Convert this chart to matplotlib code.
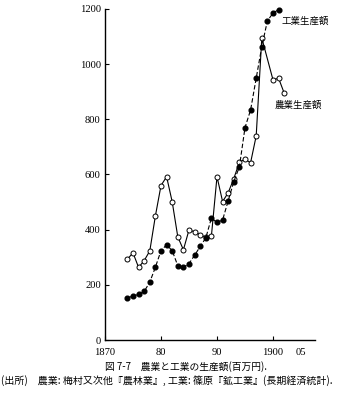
import matplotlib
matplotlib.use("Agg")
import matplotlib.pyplot as plt
import numpy as np

plt.rcParams['font.family'] = ['Noto Sans CJK JP', 'DejaVu Sans']

# 工業生産額 (百万円), 1874-1901
ind_years = list(range(1874, 1902))
ind_values = [152, 160, 165, 176, 210, 264, 324, 345, 324, 269,
              263, 277, 307, 339, 370, 442, 426, 435, 505, 574,
              628, 770, 834, 949, 1064, 1157, 1185, 1198]

# 農業生産額 (百万円)
agr_years = [1874, 1875, 1876, 1877, 1878, 1879, 1880, 1881, 1882, 1883,
             1884, 1885, 1886, 1887, 1888, 1889, 1890, 1891, 1892, 1893,
             1894, 1895, 1896, 1897, 1898, 1900, 1901, 1902]
agr_values = [293, 316, 263, 288, 323, 450, 560, 592, 501, 374,
              327, 399, 392, 382, 372, 377, 592, 502, 534, 585,
              645, 655, 643, 740, 1095, 943, 949, 895]

x_ticks = [1870, 1880, 1890, 1900, 1905]
x_labels = ['1870', '80', '90', '1900', '05']
y_ticks = [0, 200, 400, 600, 800, 1000, 1200]

fig = plt.figure(figsize=(3.41, 4.03), dpi=100)
ax = fig.add_axes([105 / 341, 63 / 403, 210 / 341, 331 / 403])

ax.plot(agr_years, agr_values, color='black', lw=0.8, marker='o',
        ms=3.6, mfc='white', mec='black', mew=0.7, clip_on=False, zorder=3)
ax.plot(ind_years, ind_values, color='black', lw=0.8, dashes=(4, 2),
        marker='o', ms=3.4, mfc='black', mec='black', clip_on=False, zorder=4)

ax.set_xlim(1870, 1907.5)
ax.set_ylim(0, 1200)
for s in ['top', 'right']:
    ax.spines[s].set_visible(False)
ax.spines['left'].set_linewidth(1.0)
ax.spines['bottom'].set_linewidth(1.0)

ax.set_xticks(x_ticks)
ax.set_xticklabels(x_labels, family='Liberation Serif', fontsize=7.6)
ax.set_yticks(y_ticks)
ax.set_yticklabels([str(v) for v in y_ticks], family='Liberation Serif', fontsize=7.6)
ax.tick_params(direction='in', length=3, width=0.8, pad=3)
ax.tick_params(axis='x', pad=6)
ax.xaxis.get_major_ticks()[-1].tick1line.set_visible(False)

ax.text(1901.5, 1155, '工業生産額', fontsize=6.8, ha='left', va='center')
ax.text(1900.2, 852, '農業生産額', fontsize=6.8, ha='left', va='center')

fig.text(186 / 341, 1 - 367 / 403, '図 7-7　農業と工業の生産額(百万円).',
         fontsize=7.0, ha='center', va='center')
fig.text(1 / 341, 1 - 381 / 403,
         '(出所)　農業: 梅村又次他『農林業』, 工業: 篠原『鉱工業』(長期経済統計).',
         fontsize=7.2, ha='left', va='center')

fig.savefig('out.png', dpi=100)
